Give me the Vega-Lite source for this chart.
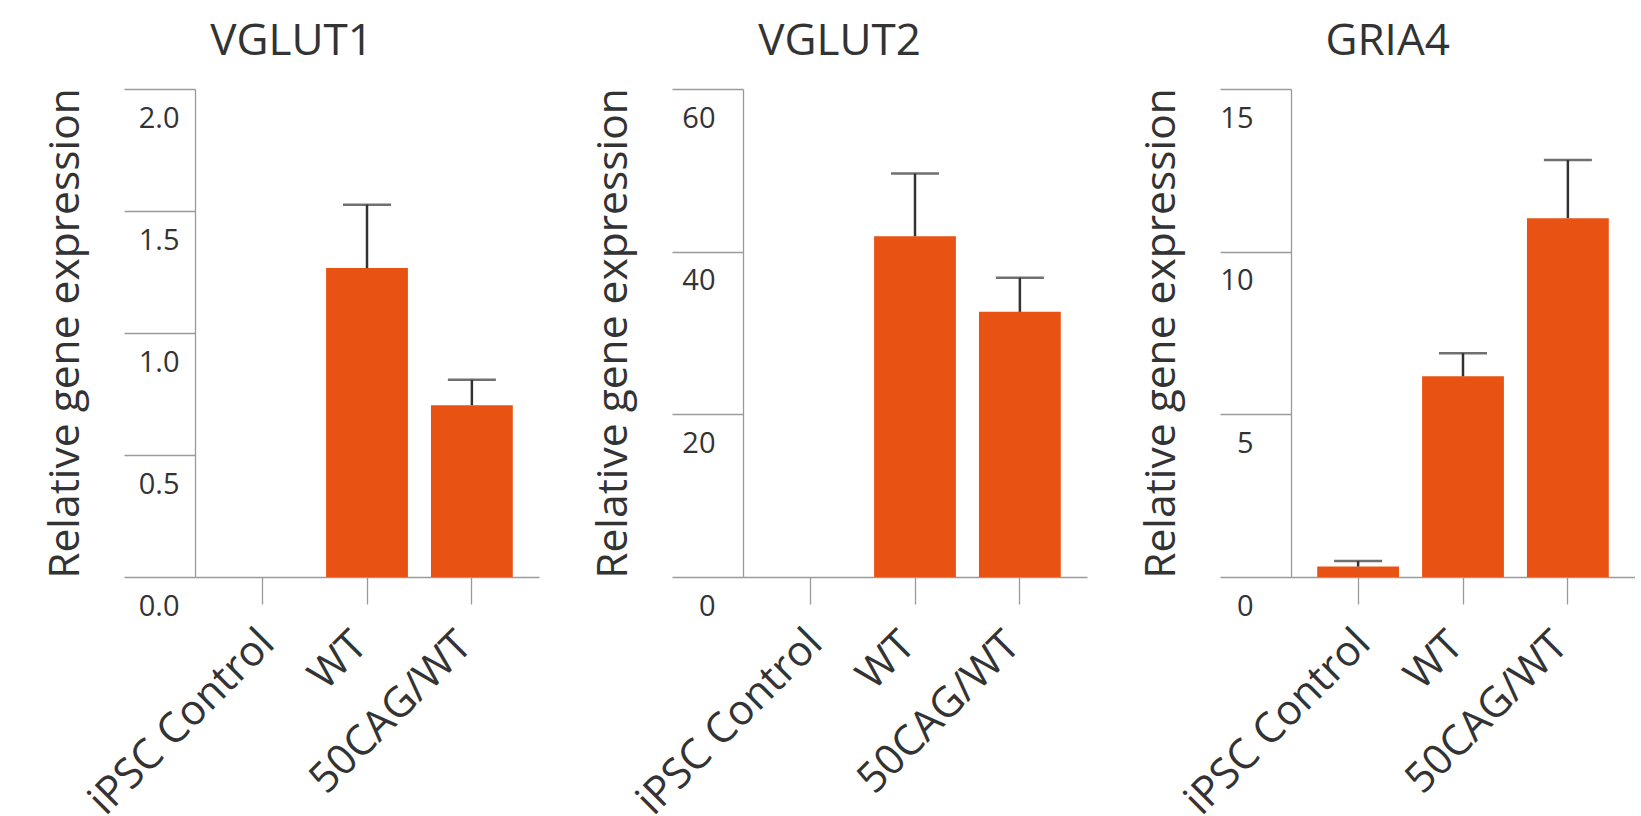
{
  "$schema": "https://vega.github.io/schema/vega-lite/v6.json",
  "padding": {"left": 44, "top": 19, "right": 0, "bottom": 0},
  "background": "white",
  "bounds": "flush",
  "data": {"values": [
    {"gene": "VGLUT1", "group": "iPSC Control", "mean": 0, "upper": null},
    {"gene": "VGLUT1", "group": "WT", "mean": 1.266, "upper": 1.526},
    {"gene": "VGLUT1", "group": "50CAG/WT", "mean": 0.704, "upper": 0.808},
    {"gene": "VGLUT2", "group": "iPSC Control", "mean": 0, "upper": null},
    {"gene": "VGLUT2", "group": "WT", "mean": 41.9, "upper": 49.6},
    {"gene": "VGLUT2", "group": "50CAG/WT", "mean": 32.6, "upper": 36.8},
    {"gene": "GRIA4", "group": "iPSC Control", "mean": 0.32, "upper": 0.49},
    {"gene": "GRIA4", "group": "WT", "mean": 6.17, "upper": 6.88},
    {"gene": "GRIA4", "group": "50CAG/WT", "mean": 11.03, "upper": 12.82}
  ]},
  "spacing": 204,
  "config": {
    "font": "Open Sans",
    "view": {"stroke": null},
    "title": {"fontSize": 44, "fontWeight": "normal", "color": "#333333", "anchor": "middle", "frame": "bounds", "offset": 24},
    "axis": {"domainColor": "#9a9a9a", "tickColor": "#9a9a9a", "domainWidth": 1.3, "tickWidth": 1.3, "labelColor": "#333333", "titleColor": "#333333", "grid": false, "labelFlush": false, "labelOverlap": false, "labelLimit": 0},
    "axisX": {"title": null, "labelAngle": -45, "labelAlign": "right", "labelBaseline": "top", "labelFontSize": 42, "tickSize": 27,
      "labelPadding": {"condition": {"test": "datum.value === 'iPSC Control'", "value": 18}, "value": 20},
      "labelOffset": {"condition": {"test": "datum.value === 'iPSC Control'", "value": -9}, "value": -21}},
    "axisY": {"tickSize": 71, "labelPadding": -55, "labelAlign": "right", "labelBaseline": "alphabetic", "labelOffset": 38, "labelFontSize": 29, "titleFontSize": 42.5, "titleFontWeight": "normal", "titlePadding": 36},
    "bar": {"color": "#E85212"}
  },
  "hconcat": [
    {
      "width": 344, "height": 488,
      "title": {"text": "VGLUT1"},
      "transform": [{"filter": "datum.gene === 'VGLUT1'"}],
      "encoding": {
        "x": {"field": "group", "type": "nominal", "sort": ["iPSC Control", "WT", "50CAG/WT"], "scale": {"paddingInner": 0.22, "paddingOuter": 0.25}}
      },
      "layer": [
        {"mark": {"type": "bar"}, "encoding": {"y": {"field": "mean", "type": "quantitative", "title": "Relative gene expression", "scale": {"domain": [0, 2], "nice": false}, "axis": {"values": [0, 0.5, 1, 1.5, 2], "format": ".1f", "labelPadding": -55}}}},
        {"transform": [{"filter": "datum.upper != null"}], "mark": {"type": "rule", "color": "#333333", "strokeWidth": 2.5}, "encoding": {"y": {"field": "mean", "type": "quantitative", "title": "Relative gene expression"}, "y2": {"field": "upper"}}},
        {"transform": [{"filter": "datum.upper != null"}], "mark": {"type": "tick", "color": "#333333", "thickness": 2.5, "size": 48}, "encoding": {"y": {"field": "upper", "type": "quantitative", "title": "Relative gene expression"}}}
      ]
    },
    {
      "width": 344, "height": 488,
      "title": {"text": "VGLUT2"},
      "transform": [{"filter": "datum.gene === 'VGLUT2'"}],
      "encoding": {
        "x": {"field": "group", "type": "nominal", "sort": ["iPSC Control", "WT", "50CAG/WT"], "scale": {"paddingInner": 0.22, "paddingOuter": 0.25}}
      },
      "layer": [
        {"mark": {"type": "bar"}, "encoding": {"y": {"field": "mean", "type": "quantitative", "title": "Relative gene expression", "scale": {"domain": [0, 60], "nice": false}, "axis": {"values": [0, 20, 40, 60], "format": "d", "labelPadding": -43}}}},
        {"transform": [{"filter": "datum.upper != null"}], "mark": {"type": "rule", "color": "#333333", "strokeWidth": 2.5}, "encoding": {"y": {"field": "mean", "type": "quantitative", "title": "Relative gene expression"}, "y2": {"field": "upper"}}},
        {"transform": [{"filter": "datum.upper != null"}], "mark": {"type": "tick", "color": "#333333", "thickness": 2.5, "size": 48}, "encoding": {"y": {"field": "upper", "type": "quantitative", "title": "Relative gene expression"}}}
      ]
    },
    {
      "width": 344, "height": 488,
      "title": {"text": "GRIA4"},
      "transform": [{"filter": "datum.gene === 'GRIA4'"}],
      "encoding": {
        "x": {"field": "group", "type": "nominal", "sort": ["iPSC Control", "WT", "50CAG/WT"], "scale": {"paddingInner": 0.22, "paddingOuter": 0.25}}
      },
      "layer": [
        {"mark": {"type": "bar"}, "encoding": {"y": {"field": "mean", "type": "quantitative", "title": "Relative gene expression", "scale": {"domain": [0, 15], "nice": false}, "axis": {"values": [0, 5, 10, 15], "format": "d", "labelPadding": -33}}}},
        {"transform": [{"filter": "datum.upper != null"}], "mark": {"type": "rule", "color": "#333333", "strokeWidth": 2.5}, "encoding": {"y": {"field": "mean", "type": "quantitative", "title": "Relative gene expression"}, "y2": {"field": "upper"}}},
        {"transform": [{"filter": "datum.upper != null"}], "mark": {"type": "tick", "color": "#333333", "thickness": 2.5, "size": 48}, "encoding": {"y": {"field": "upper", "type": "quantitative", "title": "Relative gene expression"}}}
      ]
    }
  ]
}
